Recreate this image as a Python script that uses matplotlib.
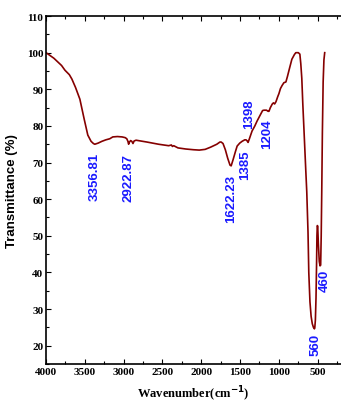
import matplotlib
matplotlib.use("Agg")
import matplotlib.pyplot as plt
from matplotlib.ticker import MultipleLocator

wavenumber = [4000, 3900, 3800, 3756, 3700, 3667, 3620, 3564, 3510, 3462, 3420, 3390, 3372, 3330,
              3280, 3230, 3179, 3140, 3080, 3020, 2980, 2960, 2945, 2936, 2925, 2910, 2895, 2880,
              2865, 2840, 2700, 2550, 2420, 2385, 2372, 2355, 2300, 2200, 2100, 2026, 1950, 1880,
              1800, 1760, 1744, 1720, 1690, 1660, 1630, 1615, 1590, 1560, 1538, 1505, 1474, 1440,
              1423, 1405, 1397, 1380, 1346, 1310, 1282, 1240, 1210, 1192, 1160, 1140, 1128, 1110,
              1100, 1085, 1070, 1055, 1038, 1015, 1000, 980, 960, 936, 910, 890, 860, 833, 800,
              782, 750, 730, 718, 705, 692, 675, 654, 641, 625, 615, 600, 585, 570, 555, 543, 538,
              530, 522, 515, 510, 505, 500, 492, 480, 470, 462, 455, 448, 440, 430, 420, 410]
transmittance = [100, 98.5, 96.5, 95.2, 94.0, 92.8, 90.5, 87.3, 82.0, 77.5, 75.8, 75.2, 75.0, 75.3,
                 75.8, 76.2, 76.5, 77.0, 77.1, 77.0, 76.8, 76.5, 75.8, 75.0, 75.6, 76.0, 75.8, 75.2,
                 75.9, 76.1, 75.6, 75.0, 74.6, 74.8, 74.4, 74.6, 74.0, 73.7, 73.5, 73.4, 73.6, 74.2,
                 75.0, 75.6, 75.6, 75.2, 73.5, 71.2, 69.3, 69.1, 70.8, 73.0, 74.5, 75.3, 75.8, 76.2,
                 76.2, 75.8, 75.5, 76.5, 78.6, 80.0, 81.3, 83.0, 84.2, 84.3, 84.3, 84.0, 84.0, 85.0,
                 85.4, 86.0, 86.3, 86.0, 86.6, 88.0, 88.8, 90.2, 91.0, 91.8, 92.0, 93.5, 96.0, 98.2, 99.5,
                 100, 100, 99.6, 97.0, 93, 86, 78, 68, 62, 51, 40, 32, 28, 26, 25, 24.6, 24.8,
                 27, 33, 42, 50, 52.8, 52.6, 48, 43, 41.8, 42.0, 50, 62, 78, 92, 98, 100]

peak_labels = ["3356.81", "2922.87", "1622.23", "1385", "1398", "1204", "560", "460"]
label_x = [3372, 2936, 1615, 1436, 1385, 1154, 526, 410]
label_y = [66.3, 66.0, 60.3, 69.6, 83.5, 78.0, 20.4, 37.9]

xticks = [4000, 3500, 3000, 2500, 2000, 1500, 1000, 500]
yticks = [20, 30, 40, 50, 60, 70, 80, 90, 100, 110]

fig = plt.figure(figsize=(3.41, 4.06), dpi=100)
ax = fig.add_axes([0.135, 0.101, 0.865, 0.857])
ax.plot(wavenumber, transmittance, color="#850000", lw=1.2)
ax.set_xlim(4000, 200)
ax.set_ylim(15, 110)
ax.set_xticks(xticks)
ax.set_yticks(yticks)
ax.xaxis.set_minor_locator(MultipleLocator(250))
ax.yaxis.set_minor_locator(MultipleLocator(5))
ax.tick_params(which="both", direction="in", top=True, right=False, width=0.8)
ax.tick_params(which="major", length=3.5, pad=2)
ax.tick_params(which="minor", length=2)
for s in ["left", "bottom", "top"]:
    ax.spines[s].set_linewidth(1.2)
ax.spines["right"].set_visible(False)

for lab in ax.get_xticklabels() + ax.get_yticklabels():
    lab.set_fontfamily("Liberation Serif")
    lab.set_fontweight("bold")
    lab.set_fontsize(8)

ax.set_ylabel("Transmittance (%)", fontfamily="Liberation Sans", fontweight="bold",
              fontsize=9.5, labelpad=6)
ax.set_xlabel("Wavenumber(cm$^{\\mathbf{-1}}$)", fontfamily="Liberation Serif", fontweight="bold",
              fontsize=9, labelpad=6)

for t, x, y in zip(peak_labels, label_x, label_y):
    ax.text(x, y, t, rotation=90, ha="center", va="center", color="#1a1aff",
            fontfamily="Liberation Sans", fontweight="bold", fontsize=9.5)

fig.savefig("out.png", dpi=100)
